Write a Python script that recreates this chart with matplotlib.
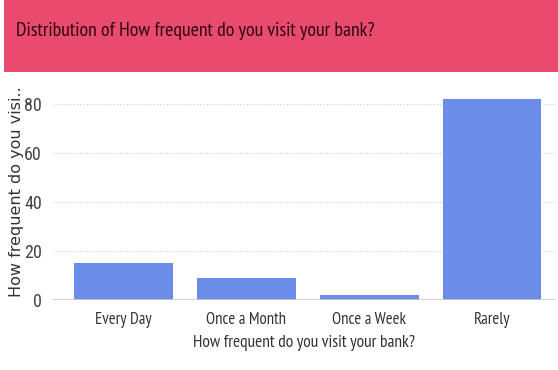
import matplotlib.pyplot as plt
from matplotlib.patches import Rectangle

categories = ["Every Day", "Once a Month", "Once a Week", "Rarely"]
counts = [15, 9, 2, 82]
y_ticks = [0, 20, 40, 60, 80]

W, H = 558, 370
NARROW = "PT Sans Narrow"
fig = plt.figure(figsize=(W / 100, H / 100), dpi=100)
fig.patch.set_facecolor("white")

# header band with the title
fig.patches.append(Rectangle((4 / W, 1 - 72 / H), 1 - 4 / W, 72 / H,
                             transform=fig.transFigure, facecolor="#e84b6d",
                             edgecolor="none", zorder=0))
fig.text(16 / W, 1 - 31 / H, "Distribution of How frequent do you visit your bank?",
         family=NARROW, fontsize=14.3, color="#2e0812", va="center", ha="left")

ax = fig.add_axes([53 / W, 1 - 300 / H, 502 / W, 215 / H])
x = range(len(categories))
ax.bar(x, counts, width=0.8, color="#6b8ce9", zorder=2)

ax.set_xlim(-0.573, 3.51)
ax.set_ylim(0, 87.6)
ax.set_yticks(y_ticks)
ax.set_xticks(list(x))
ax.set_xticklabels(categories, family=NARROW, fontsize=12, color="#333333")
ax.tick_params(axis="y", labelsize=13, labelcolor="#444444", length=0, pad=8)
ax.tick_params(axis="x", length=0, pad=9)
for lbl in ax.get_yticklabels():
    lbl.set_family("Roboto Condensed")

ax.grid(axis="y", linestyle=(0, (1, 2)), color="#cccccc", linewidth=0.8, zorder=0)
ax.axhline(0, color="#cccccc", linewidth=1.2, zorder=3)
for s in ax.spines.values():
    s.set_visible(False)

ax.set_xlabel("How frequent do you visit your bank?", family=NARROW,
              fontsize=12.5, color="#333333", labelpad=5)
fig.text(17 / W, 1 - 192 / H, "How frequent do you visi..", rotation=90,
         family="DejaVu Sans", fontsize=11.5, color="#333333",
         ha="center", va="center")

fig.savefig("out.png", dpi=100)
